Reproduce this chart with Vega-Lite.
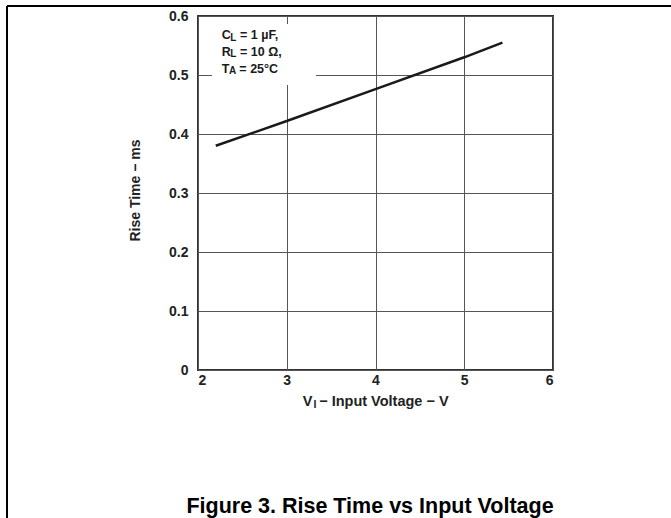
{
  "$schema": "https://vega.github.io/schema/vega-lite/v6.json",
  "width": 355,
  "height": 354,
  "autosize": {"type": "none"},
  "padding": {"left": 198, "top": 16, "right": 118, "bottom": 148},
  "background": "white",
  "config": {
    "font": "Liberation Sans",
    "view": {"stroke": "#333333", "strokeWidth": 2},
    "axis": {"labelFont": "Liberation Sans", "labelFontWeight": "bold", "labelColor": "#222222", "titleFont": "Liberation Sans", "titleFontWeight": "bold", "titleColor": "#222222"}
  },
  "datasets": {
    "curve": [
      {"v": 2.2, "t": 0.38},
      {"v": 3.0, "t": 0.422},
      {"v": 4.0, "t": 0.476},
      {"v": 5.0, "t": 0.53},
      {"v": 5.43, "t": 0.555}
    ],
    "box": [{"x": 2.158, "x2": 3.33, "y": 0.483, "y2": 0.5864}],
    "frame": [
      {"x": -0.152, "x2": 7.5, "y": 0.6169, "y2": 0.6169},
      {"x": -0.152, "x2": -0.152, "y": 0.6169, "y2": -0.27}
    ],
    "notes": [
      {"label": "C", "x": 2.267, "y": 0.561, "kind": "note"},
      {"label": "L", "x": 2.3628, "y": 0.5581, "kind": "notesub"},
      {"label": "= 1 µF,", "x": 2.474, "y": 0.561, "kind": "note"},
      {"label": "R", "x": 2.267, "y": 0.5327, "kind": "note"},
      {"label": "L", "x": 2.3628, "y": 0.5298, "kind": "notesub"},
      {"label": "= 10 Ω,", "x": 2.474, "y": 0.5327, "kind": "note"},
      {"label": "T", "x": 2.267, "y": 0.5039, "kind": "note"},
      {"label": "A", "x": 2.349, "y": 0.501, "kind": "notesub"},
      {"label": "= 25°C", "x": 2.466, "y": 0.5039, "kind": "note"},
      {"label": "V", "x": 3.18, "y": -0.0605, "kind": "axis"},
      {"label": "I", "x": 3.302, "y": -0.0645, "kind": "axissub"},
      {"label": "− Input Voltage − V", "x": 3.365, "y": -0.0605, "kind": "axis"}
    ],
    "caption": [{"label": "Figure 3. Rise Time vs Input Voltage", "x": 3.938, "y": -0.2429}]
  },
  "layer": [
    {
      "data": {"name": "curve"},
      "mark": {"type": "line", "color": "#1a1a1a", "strokeWidth": 2.5},
      "encoding": {
        "x": {"field": "v", "type": "quantitative", "scale": {"domain": [2, 6], "nice": false, "zero": false},
          "axis": {"title": null, "values": [2, 3, 4, 5, 6], "format": "d", "grid": true, "gridColor": "#555555", "gridWidth": 1, "gridOpacity": 1, "ticks": false, "domain": false, "labelFontSize": 14, "labelPadding": 3}},
        "y": {"field": "t", "type": "quantitative", "scale": {"domain": [0, 0.6], "nice": false},
          "axis": {"title": "Rise Time − ms", "values": [0, 0.1, 0.2, 0.3, 0.4, 0.5, 0.6], "labelExpr": "datum.value == 0 ? '0' : format(datum.value, '.1f')", "grid": true, "gridColor": "#555555", "gridWidth": 1, "gridOpacity": 1, "ticks": false, "domain": false, "labelFontSize": 14, "labelPadding": 10, "titleFontSize": 14, "titleX": -63, "titleY": 174, "titleAngle": -90, "titleAlign": "center", "titleBaseline": "middle"}}
      }
    },
    {
      "data": {"name": "box"},
      "mark": {"type": "rect", "color": "white"},
      "encoding": {
        "x": {"field": "x", "type": "quantitative"},
        "x2": {"field": "x2"},
        "y": {"field": "y", "type": "quantitative"},
        "y2": {"field": "y2"}
      }
    },
    {
      "data": {"name": "frame"},
      "mark": {"type": "rule", "color": "black", "strokeWidth": 2},
      "encoding": {
        "x": {"field": "x", "type": "quantitative"},
        "x2": {"field": "x2"},
        "y": {"field": "y", "type": "quantitative"},
        "y2": {"field": "y2"}
      }
    },
    {
      "data": {"name": "notes"},
      "transform": [{"filter": "datum.kind == 'note'"}],
      "mark": {"type": "text", "align": "left", "baseline": "alphabetic", "fontSize": 12.5, "fontWeight": "bold", "color": "#1a1a1a"},
      "encoding": {
        "x": {"field": "x", "type": "quantitative"},
        "y": {"field": "y", "type": "quantitative"},
        "text": {"field": "label"}
      }
    },
    {
      "data": {"name": "notes"},
      "transform": [{"filter": "datum.kind == 'notesub'"}],
      "mark": {"type": "text", "align": "left", "baseline": "alphabetic", "fontSize": 10, "fontWeight": "bold", "color": "#1a1a1a"},
      "encoding": {
        "x": {"field": "x", "type": "quantitative"},
        "y": {"field": "y", "type": "quantitative"},
        "text": {"field": "label"}
      }
    },
    {
      "data": {"name": "notes"},
      "transform": [{"filter": "datum.kind == 'axis'"}],
      "mark": {"type": "text", "align": "left", "baseline": "alphabetic", "fontSize": 14.5, "fontWeight": "bold", "color": "#222222"},
      "encoding": {
        "x": {"field": "x", "type": "quantitative"},
        "y": {"field": "y", "type": "quantitative"},
        "text": {"field": "label"}
      }
    },
    {
      "data": {"name": "notes"},
      "transform": [{"filter": "datum.kind == 'axissub'"}],
      "mark": {"type": "text", "align": "left", "baseline": "alphabetic", "fontSize": 10.5, "fontWeight": "bold", "color": "#222222"},
      "encoding": {
        "x": {"field": "x", "type": "quantitative"},
        "y": {"field": "y", "type": "quantitative"},
        "text": {"field": "label"}
      }
    },
    {
      "data": {"name": "caption"},
      "mark": {"type": "text", "align": "center", "baseline": "alphabetic", "fontSize": 21.5, "fontWeight": "bold", "color": "black"},
      "encoding": {
        "x": {"field": "x", "type": "quantitative"},
        "y": {"field": "y", "type": "quantitative"},
        "text": {"field": "label"}
      }
    }
  ]
}
